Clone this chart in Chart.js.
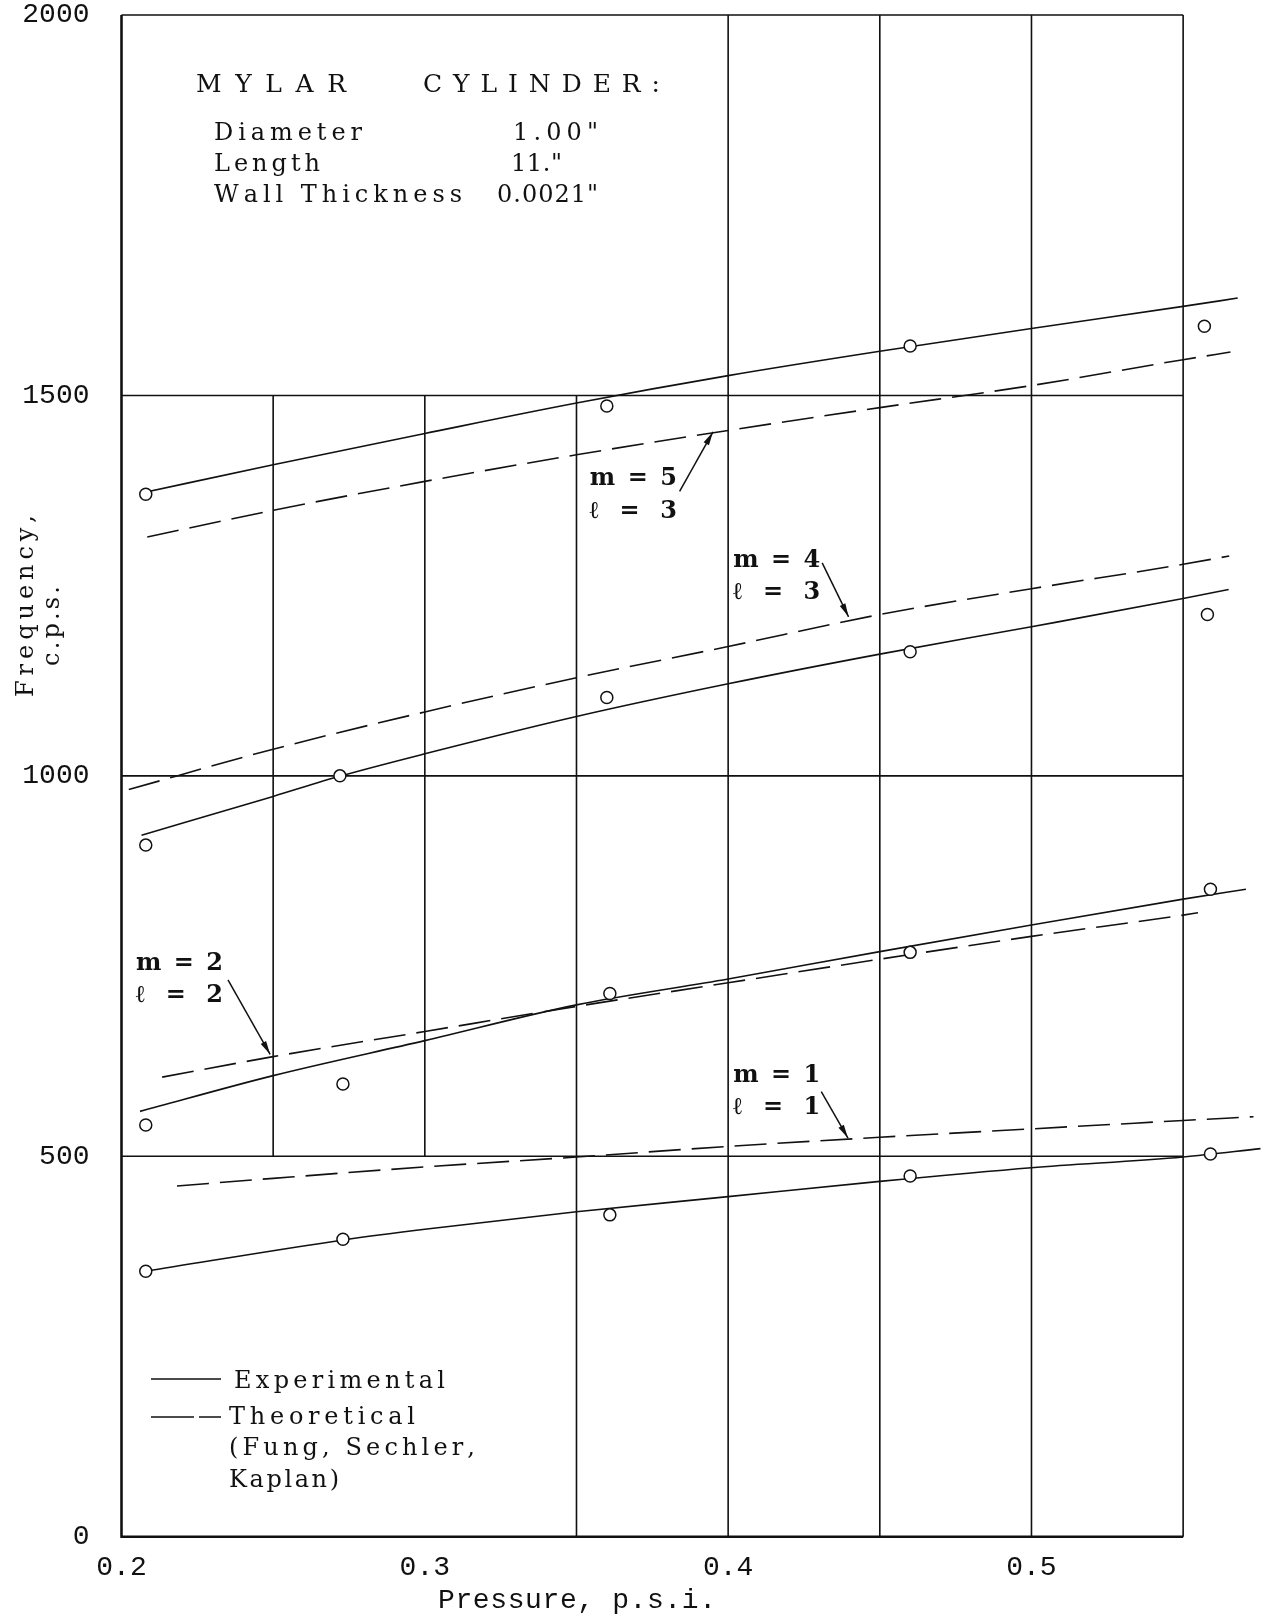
<!DOCTYPE html>
<html>
<head>
<meta charset="utf-8">
<script src="https://cdn.jsdelivr.net/npm/chart.js@4.4.1/dist/chart.umd.min.js"></script>
<style>
  html, body { margin: 0; padding: 0; background: #fff; }
  #wrap { width: 1270px; height: 1618px; }
</style>
</head>
<body>
<div id="wrap"><canvas id="freqChart" width="1270" height="1618"></canvas></div>
<script>
// axis ranges / ticks
const xMin = 0.2, xMax = 0.576;
const yMin = 0, yMax = 2000;
const yStep = 500;
const xStep = 0.1;

// measured points (open circles), pressure psi / frequency cps
const ptP_m5 = [0.208, 0.360, 0.460, 0.557];
const ptF_m5 = [1370, 1486, 1565, 1591];
const ptP_m4 = [0.208, 0.272, 0.360, 0.460, 0.558];
const ptF_m4 = [909, 1000, 1103, 1163, 1212];
const ptP_m2 = [0.208, 0.273, 0.361, 0.460, 0.559];
const ptF_m2 = [541, 595, 714, 768, 851];
const ptP_m1 = [0.208, 0.273, 0.361, 0.460, 0.559];
const ptF_m1 = [349, 391, 423, 474, 503];

// experimental curves (solid)
const expP_m5 = [0.207, 0.25, 0.30, 0.35, 0.40, 0.45, 0.50, 0.55, 0.568];
const expF_m5 = [1372, 1409, 1450, 1490, 1526, 1558, 1588, 1617, 1628];
const expP_m4 = [0.2066, 0.25, 0.2724, 0.30, 0.35, 0.40, 0.45, 0.50, 0.55, 0.565];
const expF_m4 = [922, 973, 1000, 1029, 1078, 1121, 1160, 1196, 1233, 1245];
const expP_m2 = [0.2061, 0.25, 0.30, 0.35, 0.40, 0.45, 0.50, 0.55, 0.5707];
const expF_m2 = [559, 606, 652, 699, 733, 769, 804, 838, 851];
const expP_m1 = [0.208, 0.2732, 0.30, 0.35, 0.40, 0.45, 0.50, 0.55, 0.5755];
const expF_m1 = [349, 390, 404, 427, 447, 467, 485, 499, 510];

// theoretical curves (dashed)
const thP_m5 = [0.2085, 0.25, 0.30, 0.35, 0.40, 0.45, 0.50, 0.55, 0.5656];
const thF_m5 = [1314, 1349, 1387, 1422, 1454, 1484, 1513, 1547, 1557];
const thP_m4 = [0.2024, 0.25, 0.30, 0.35, 0.40, 0.45, 0.50, 0.55, 0.5652];
const thF_m4 = [982, 1035, 1084, 1129, 1170, 1212, 1246, 1278, 1289];
const thP_m2 = [0.2134, 0.25, 0.30, 0.35, 0.40, 0.45, 0.50, 0.55, 0.5549];
const thF_m2 = [604, 631, 664, 697, 728, 759, 789, 817, 820];
const thP_m1 = [0.2183, 0.25, 0.30, 0.35, 0.40, 0.45, 0.50, 0.55, 0.5732];
const thF_m1 = [461, 471, 486, 499, 513, 525, 536, 547, 552];

// hand-ruled grid of the original sheet
const gridRows = [2000, 1500, 1000, 500, 0];        // from 0.2 to 0.55
const gridCols = [[0.2, 0, 2000], [0.25, 500, 1500], [0.3, 500, 1500], [0.35, 0, 1500],
                  [0.4, 0, 2000], [0.45, 0, 2000], [0.5, 0, 2000], [0.55, 0, 2000]];

// mode labels: [line 1, line 2, left p, baseline f of line 1, baseline f of line 2]
const modeLabels = [
  ['m = 5', 'ℓ = 3', 0.3544, 1382, 1339],
  ['m = 4', 'ℓ = 3', 0.4017, 1275, 1233],
  ['m = 2', 'ℓ = 2', 0.2048, 745, 703],
  ['m = 1', 'ℓ = 1', 0.4017, 598, 556]
];
// leader arrows [p0, f0, p1, f1], head at p1/f1
const modeArrows = [
  [0.384, 1374, 0.395, 1452],
  [0.431, 1280, 0.4397, 1209],
  [0.2351, 732, 0.249, 634],
  [0.4307, 585, 0.4395, 524]
];

const INK = '#111';
const toXY = (xs, ys) => xs.map((x, i) => ({ x: x, y: ys[i] }));

function solid(xs, ys) {
  return { data: toXY(xs, ys), showLine: true, borderColor: INK, borderWidth: 1.6,
           pointRadius: 0, cubicInterpolationMode: 'monotone', order: 2 };
}
function dashed(xs, ys) {
  return { data: toXY(xs, ys), showLine: true, borderColor: INK, borderWidth: 1.6,
           borderDash: [32, 11], pointRadius: 0, cubicInterpolationMode: 'monotone', order: 2 };
}
function circles(xs, ys) {
  return { data: toXY(xs, ys), showLine: false, pointRadius: 6, pointBorderWidth: 1.5,
           pointBorderColor: INK, pointBackgroundColor: '#fff', order: 1 };
}

// draw text spread to a given width (typewriter spacing)
function spaced(ctx, str, x, y, width) {
  const chars = [...str];
  const nat = chars.reduce((s, c) => s + ctx.measureText(c).width, 0);
  const gap = chars.length > 1 ? (width - nat) / (chars.length - 1) : 0;
  let cx = x;
  for (const c of chars) {
    ctx.fillText(c, cx, y);
    cx += ctx.measureText(c).width + gap;
  }
}

const sheetPlugin = {
  id: 'sheet',
  beforeDatasetsDraw(chart) {
    const ctx = chart.ctx, xs = chart.scales.x, ys = chart.scales.y;
    ctx.save();
    ctx.strokeStyle = INK;
    ctx.lineWidth = 1.6;
    ctx.beginPath();
    gridRows.forEach(v => {
      ctx.moveTo(xs.getPixelForValue(0.2), ys.getPixelForValue(v));
      ctx.lineTo(xs.getPixelForValue(0.55), ys.getPixelForValue(v));
    });
    gridCols.forEach(c => {
      ctx.moveTo(xs.getPixelForValue(c[0]), ys.getPixelForValue(c[1]));
      ctx.lineTo(xs.getPixelForValue(c[0]), ys.getPixelForValue(c[2]));
    });
    ctx.stroke();
    ctx.lineWidth = 2.4;
    ctx.beginPath();
    ctx.moveTo(xs.getPixelForValue(0.2), ys.getPixelForValue(2000));
    ctx.lineTo(xs.getPixelForValue(0.2), ys.getPixelForValue(0));
    ctx.lineTo(xs.getPixelForValue(0.55), ys.getPixelForValue(0));
    ctx.stroke();
    ctx.restore();
  },
  afterDraw(chart) {
    const ctx = chart.ctx, xs = chart.scales.x, ys = chart.scales.y;
    ctx.save();
    ctx.fillStyle = INK;
    ctx.strokeStyle = INK;
    ctx.textBaseline = 'alphabetic';
    ctx.textAlign = 'left';

    // specimen box
    ctx.font = '25px "DejaVu Serif"';
    spaced(ctx, 'MYLAR', 196, 92, 150);
    spaced(ctx, 'CYLINDER:', 423, 92, 237);
    ctx.font = '24px "DejaVu Serif"';
    spaced(ctx, 'Diameter', 214, 140, 148);
    spaced(ctx, 'Length', 214, 171, 106);
    spaced(ctx, 'Wall Thickness', 214, 202, 248);
    spaced(ctx, '1.00"', 513, 140, 85);
    spaced(ctx, '11."', 511, 171, 51);
    spaced(ctx, '0.0021"', 497, 202, 101);

    // legend
    ctx.lineWidth = 1.6;
    ctx.beginPath();
    ctx.moveTo(151, 1379); ctx.lineTo(221, 1379);
    ctx.moveTo(151, 1417); ctx.lineTo(194, 1417);
    ctx.moveTo(199, 1417); ctx.lineTo(221, 1417);
    ctx.stroke();
    ctx.font = '24px "DejaVu Serif"';
    spaced(ctx, 'Experimental', 234, 1388, 211);
    spaced(ctx, 'Theoretical', 229, 1424, 186);
    spaced(ctx, '(Fung, Sechler,', 229, 1455, 246);
    spaced(ctx, 'Kaplan)', 229, 1487, 110);

    // mode labels and leaders
    ctx.font = 'bold 24px "DejaVu Serif"';
    modeLabels.forEach(l => {
      const x = xs.getPixelForValue(l[2]);
      spaced(ctx, l[0], x, ys.getPixelForValue(l[3]), 87);
      spaced(ctx, l[1], x, ys.getPixelForValue(l[4]), 87);
    });
    ctx.lineWidth = 1.5;
    modeArrows.forEach(a => {
      const x0 = xs.getPixelForValue(a[0]), y0 = ys.getPixelForValue(a[1]);
      const x1 = xs.getPixelForValue(a[2]), y1 = ys.getPixelForValue(a[3]);
      ctx.beginPath(); ctx.moveTo(x0, y0); ctx.lineTo(x1, y1); ctx.stroke();
      const ang = Math.atan2(y1 - y0, x1 - x0);
      ctx.beginPath();
      ctx.moveTo(x1, y1);
      ctx.lineTo(x1 - 14 * Math.cos(ang - 0.22), y1 - 14 * Math.sin(ang - 0.22));
      ctx.lineTo(x1 - 14 * Math.cos(ang + 0.22), y1 - 14 * Math.sin(ang + 0.22));
      ctx.closePath(); ctx.fill();
    });

    // axis titles
    ctx.font = '28px "Liberation Mono"';
    spaced(ctx, 'Pressure, p.s.i.', 438, 1608, 278);
    ctx.font = '24px "DejaVu Serif"';
    ctx.save();
    ctx.translate(33, 697);
    ctx.rotate(-Math.PI / 2);
    spaced(ctx, 'Frequency,', 0, 0, 182);
    ctx.restore();
    ctx.save();
    ctx.translate(59, 666);
    ctx.rotate(-Math.PI / 2);
    spaced(ctx, 'c.p.s.', 0, 0, 80);
    ctx.restore();
    ctx.restore();
  }
};

new Chart(document.getElementById('freqChart'), {
  type: 'scatter',
  data: {
    datasets: [
      solid(expP_m5, expF_m5), dashed(thP_m5, thF_m5), circles(ptP_m5, ptF_m5),
      solid(expP_m4, expF_m4), dashed(thP_m4, thF_m4), circles(ptP_m4, ptF_m4),
      solid(expP_m2, expF_m2), dashed(thP_m2, thF_m2), circles(ptP_m2, ptF_m2),
      solid(expP_m1, expF_m1), dashed(thP_m1, thF_m1), circles(ptP_m1, ptF_m1)
    ]
  },
  options: {
    responsive: false,
    animation: false,
    devicePixelRatio: 1,
    layout: { padding: { left: 0, top: 15, right: 8, bottom: 0 } },
    plugins: { legend: { display: false }, tooltip: { enabled: false } },
    scales: {
      x: {
        type: 'linear', min: xMin, max: xMax,
        grid: { display: false }, border: { display: false },
        ticks: {
          stepSize: xStep, includeBounds: false, padding: 6, color: INK,
          font: { family: 'Liberation Mono', size: 28 },
          callback: v => v.toFixed(1)
        },
        afterFit: s => { s.height = 81.3; s.paddingLeft = 0; s.paddingRight = 0; }
      },
      y: {
        type: 'linear', min: yMin, max: yMax,
        grid: { display: false }, border: { display: false },
        ticks: {
          stepSize: yStep, padding: 24, color: INK,
          font: { family: 'Liberation Mono', size: 28 },
          callback: v => String(v)
        },
        afterFit: s => { s.width = 121.5; s.paddingTop = 0; s.paddingBottom = 0; }
      }
    }
  },
  plugins: [sheetPlugin]
});
</script>
</body>
</html>
